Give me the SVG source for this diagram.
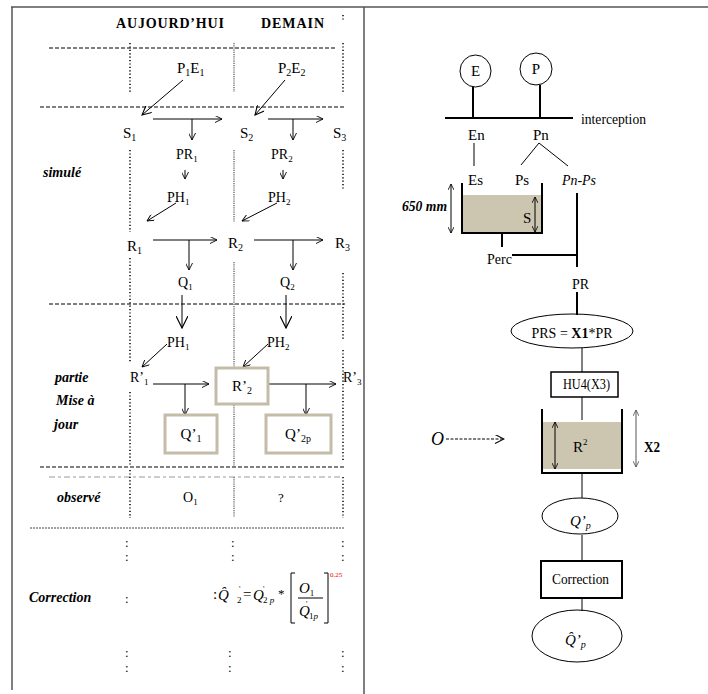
<svg xmlns="http://www.w3.org/2000/svg" width="708" height="694" viewBox="0 0 708 694">
<defs>
<style>
text{font-family:"Liberation Serif","Times New Roman",serif;fill:#000}
.hdr{font-size:14px;font-weight:bold}
.lbl{font-size:14px;font-weight:bold;font-style:italic}
.t13{font-size:13px}
.t14{font-size:14px}
.t15{font-size:15px}
.it{font-style:italic}
.frame{stroke:#555;stroke-width:1.5;fill:none}
.dash{stroke:#000;stroke-width:1;stroke-dasharray:4 2;fill:none}
.dot{stroke:#000;stroke-width:1.5;stroke-dasharray:1.2 2.2;fill:none}
.dotg{stroke:#777;stroke-width:1.5;stroke-dasharray:1.2 1;fill:none}
.ln{stroke:#000;stroke-width:1;fill:none}
.ln2{stroke:#000;stroke-width:2;fill:none}
.bx{stroke:#c4bca8;stroke-width:3;fill:#fff}
.fill{fill:#ccc5b0;stroke:none}
</style>
<marker id="a" viewBox="0 0 10 10" refX="10" refY="5" markerWidth="8" markerHeight="7" markerUnits="userSpaceOnUse" orient="auto"><path d="M0,0 L10,5 L0,10" fill="none" stroke="#000" stroke-width="1.3"/></marker>
<marker id="am" viewBox="0 0 10 10" refX="10" refY="5" markerWidth="11" markerHeight="9" markerUnits="userSpaceOnUse" orient="auto"><path d="M0,0 L10,5 L0,10" fill="none" stroke="#000" stroke-width="1.2"/></marker>
<marker id="ab" viewBox="0 0 10 10" refX="10" refY="5" markerWidth="13" markerHeight="12" markerUnits="userSpaceOnUse" orient="auto"><path d="M0,0 L10,5 L0,10" fill="none" stroke="#000" stroke-width="1"/></marker>
<marker id="ad" viewBox="0 0 10 10" refX="10" refY="5" markerWidth="6" markerHeight="6" markerUnits="userSpaceOnUse" orient="auto-start-reverse"><path d="M0,0 L10,5 L0,10" fill="none" stroke="#000" stroke-width="1.4"/></marker>
<marker id="adg" viewBox="0 0 10 10" refX="10" refY="5" markerWidth="6" markerHeight="6" markerUnits="userSpaceOnUse" orient="auto-start-reverse"><path d="M0,0 L10,5 L0,10" fill="none" stroke="#555" stroke-width="1.4"/></marker>
</defs>

<g id="frame">
<line class="frame" x1="11" y1="7" x2="708" y2="7"/>
<line class="frame" x1="12" y1="7" x2="12" y2="690"/>
<line class="frame" x1="364" y1="7" x2="364" y2="694"/>
</g>

<g id="grid">
<line class="dash" x1="49" y1="48" x2="337" y2="48"/>
<line class="dash" x1="40" y1="107" x2="345" y2="107"/>
<line class="dash" x1="49" y1="304" x2="345" y2="304"/>
<line class="dash" x1="40" y1="467" x2="345" y2="467"/>
<line x1="49" y1="477" x2="343" y2="477" stroke="#999" stroke-width="1" stroke-dasharray="6 3 3 3"/>
<line x1="30" y1="528" x2="345" y2="528" stroke="#444" stroke-width="1" stroke-dasharray="2 1"/>
<path class="dot" d="M130,43V92 M130,150V232 M130,258V362 M130,392V465 M130,470V518"/>
<path class="dotg" d="M234,43V92 M234,150V222 M234,262V467 M234,477V517"/>
<path class="dot" d="M343,15V20 M343,43V92 M343,150V190 M343,273V340 M343,350V460 M343,477V518"/>
</g>

<g id="headers">
<text class="hdr" x="116" y="28" textLength="108" lengthAdjust="spacing">AUJOURD’HUI</text>
<text class="hdr" x="261" y="28" textLength="63" lengthAdjust="spacing">DEMAIN</text>
</g>

<g id="row-labels">
<text class="lbl" x="43" y="177">simulé</text>
<text class="lbl" x="55" y="382">partie</text>
<text class="lbl" x="56" y="405">Mise à</text>
<text class="lbl" x="54" y="429">jour</text>
<text class="lbl" x="57" y="502">observé</text>
<text class="lbl" x="29" y="602">Correction</text>
</g>

<g id="connectors">
<line class="ln" x1="183" y1="80" x2="142" y2="115" marker-end="url(#am)"/>
<line class="ln" x1="285" y1="80" x2="255" y2="115" marker-end="url(#am)"/>
<line class="ln" x1="153" y1="119" x2="222" y2="119" marker-end="url(#a)"/>
<line class="ln" x1="192" y1="119" x2="192" y2="140" marker-end="url(#a)"/>
<line class="ln" x1="268" y1="119" x2="323" y2="119" marker-end="url(#a)"/>
<line class="ln" x1="293" y1="119" x2="293" y2="140" marker-end="url(#a)"/>
<line class="ln" x1="185" y1="170" x2="185" y2="179" marker-end="url(#a)"/>
<line class="ln" x1="283" y1="170" x2="283" y2="179" marker-end="url(#a)"/>
<line class="ln" x1="176" y1="203" x2="147" y2="221" marker-end="url(#a)"/>
<line class="ln" x1="277" y1="203" x2="242" y2="221" marker-end="url(#a)"/>
<line class="ln" x1="153" y1="240" x2="217" y2="240" marker-end="url(#a)"/>
<line class="ln" x1="189" y1="240" x2="189" y2="270" marker-end="url(#a)"/>
<line class="ln" x1="254" y1="240" x2="323" y2="240" marker-end="url(#a)"/>
<line class="ln" x1="293" y1="240" x2="293" y2="270" marker-end="url(#a)"/>
<line class="ln" x1="182" y1="295" x2="182" y2="328" marker-end="url(#ab)"/>
<line class="ln" x1="286" y1="295" x2="286" y2="328" marker-end="url(#ab)"/>
<line class="ln" x1="167" y1="344" x2="142" y2="367" marker-end="url(#a)"/>
<line class="ln" x1="268" y1="344" x2="243" y2="367" marker-end="url(#a)"/>
<line class="ln" x1="153" y1="384" x2="209" y2="384" marker-end="url(#a)"/>
<line class="ln" x1="185" y1="384" x2="185" y2="415" marker-end="url(#a)"/>
<line class="ln" x1="268" y1="384" x2="336" y2="384" marker-end="url(#a)"/>
<line class="ln" x1="306" y1="384" x2="306" y2="415" marker-end="url(#a)"/>
</g>

<g id="n-P1E1"><text class="t15" x="177" y="73">P<tspan font-size="10" dy="3">1</tspan><tspan dy="-3">E</tspan><tspan font-size="10" dy="3">1</tspan></text></g>
<g id="n-P2E2"><text class="t15" x="278" y="73">P<tspan font-size="10" dy="3">2</tspan><tspan dy="-3">E</tspan><tspan font-size="10" dy="3">2</tspan></text></g>
<g id="n-S1"><text class="t15" x="123" y="138">S<tspan font-size="10" dy="3">1</tspan></text></g>
<g id="n-S2"><text class="t15" x="240" y="138">S<tspan font-size="10" dy="3">2</tspan></text></g>
<g id="n-S3"><text class="t15" x="333" y="138">S<tspan font-size="10" dy="3">3</tspan></text></g>
<g id="n-PR1"><text class="t14" x="176" y="159">PR<tspan font-size="9" dy="3">1</tspan></text></g>
<g id="n-PR2"><text class="t14" x="271" y="159">PR<tspan font-size="9" dy="3">2</tspan></text></g>
<g id="n-PH1"><text class="t14" x="167" y="202">PH<tspan font-size="9" dy="3">1</tspan></text></g>
<g id="n-PH2"><text class="t14" x="268" y="202">PH<tspan font-size="9" dy="3">2</tspan></text></g>
<g id="n-R1"><text class="t15" x="127" y="251">R<tspan font-size="10" dy="3">1</tspan></text></g>
<g id="n-R2"><text class="t15" x="228" y="248">R<tspan font-size="10" dy="3">2</tspan></text></g>
<g id="n-R3"><text class="t15" x="335" y="248">R<tspan font-size="10" dy="3">3</tspan></text></g>
<g id="n-Q1"><text class="t14" x="178" y="287">Q<tspan font-size="9" dy="3">1</tspan></text></g>
<g id="n-Q2"><text class="t14" x="280" y="287">Q<tspan font-size="9" dy="3">2</tspan></text></g>
<g id="n-PH1b"><text class="t14" x="167" y="347">PH<tspan font-size="9" dy="3">1</tspan></text></g>
<g id="n-PH2b"><text class="t14" x="267" y="347">PH<tspan font-size="9" dy="3">2</tspan></text></g>
<g id="n-Rp1"><text class="t14" x="130" y="382">R’<tspan font-size="9" dy="3">1</tspan></text></g>
<g id="n-Rp2"><rect class="bx" x="216" y="368" width="52" height="36"/><text class="t15" x="242" y="391" text-anchor="middle">R’<tspan font-size="10" dy="3">2</tspan></text></g>
<g id="n-Rp3"><text class="t14" x="343" y="382">R’<tspan font-size="9" dy="3">3</tspan></text></g>
<g id="n-Qp1"><rect class="bx" x="165" y="415" width="52" height="38"/><text class="t15" x="191" y="439" text-anchor="middle">Q’<tspan font-size="10" dy="3">1</tspan></text></g>
<g id="n-Qp2p"><rect class="bx" x="266" y="415" width="65" height="38"/><text class="t15" x="298" y="439" text-anchor="middle">Q’<tspan font-size="10" dy="3">2p</tspan></text></g>
<g id="n-O1"><text class="t14" x="183" y="502">O<tspan font-size="9" dy="3">1</tspan></text></g>
<g id="n-q"><text class="t13" x="278" y="502">?</text></g>

<g id="colons">
<text class="t13" x="125" y="547">:</text><text class="t13" x="125" y="561">:</text>
<text class="t13" x="231" y="547">:</text><text class="t13" x="231" y="561">:</text>
<text class="t13" x="341" y="547">:</text><text class="t13" x="341" y="561">:</text>
<text class="t13" x="125" y="603">:</text>
<text class="t13" x="125" y="657">:</text><text class="t13" x="125" y="672">:</text>
<text class="t13" x="228" y="657">:</text><text class="t13" x="228" y="672">:</text>
<text class="t13" x="341" y="657">:</text><text class="t13" x="341" y="672">:</text>
</g>

<g id="formula">
<text class="t15" x="213" y="599">:</text>
<text class="t15 it" x="218" y="600">Q̂</text>
<text font-size="8" x="239" y="592">'</text>
<text font-size="9" x="237" y="603">2</text>
<text class="t15" x="243" y="599">=</text>
<text class="t15 it" x="253" y="600">Q</text>
<text font-size="8" x="263" y="592">'</text>
<text font-size="9" x="263" y="603">2<tspan font-style="italic"> p</tspan></text>
<text class="t13" x="278" y="598">*</text>
<path class="ln" d="M295,573 H291 V623 H295 M324,573 H328 V623 H324"/>
<text class="t15 it" x="299" y="593">O<tspan font-size="9" font-style="normal" dy="3">1</tspan></text>
<line class="ln" x1="298" y1="598" x2="323" y2="598"/>
<text class="t15 it" x="299" y="616">Q</text>
<text font-size="8" x="306" y="607">'</text>
<text font-size="9" x="309" y="619">1<tspan font-style="italic">p</tspan></text>
<text font-size="7" x="330" y="577" style="fill:#e00">0.25</text>
</g>

<g id="n-E"><ellipse cx="475.5" cy="71" rx="15.5" ry="16" fill="none" stroke="#000"/><text class="t15" x="475.5" y="76" text-anchor="middle">E</text></g>
<g id="n-P"><ellipse cx="536" cy="69" rx="16" ry="16" fill="none" stroke="#000"/><text class="t15" x="536" y="74" text-anchor="middle">P</text></g>

<g id="right-connectors">
<line class="ln2" x1="473" y1="87" x2="473" y2="118"/>
<line class="ln2" x1="540" y1="85" x2="540" y2="118"/>
<line class="ln2" x1="445" y1="118" x2="573" y2="118"/>
<line class="ln" x1="474" y1="143" x2="474" y2="166"/>
<line class="ln" x1="539" y1="143" x2="521" y2="165"/>
<line class="ln" x1="539" y1="143" x2="568" y2="166"/>
<line class="ln2" x1="502" y1="233" x2="502" y2="247"/>
<line class="ln2" x1="512" y1="255" x2="577" y2="255"/>
<line class="ln2" x1="577" y1="193" x2="577" y2="267"/>
<line class="ln2" x1="577" y1="292" x2="577" y2="315"/>
<line class="ln" x1="582" y1="348" x2="582" y2="372" stroke-width="1.5"/>
<line class="ln" x1="582" y1="397" x2="582" y2="420" stroke-width="1.5"/>
<line class="ln" x1="582" y1="473" x2="582" y2="498" stroke-width="1.5"/>
<line class="ln" x1="582" y1="535" x2="582" y2="561"/>
<line class="ln" x1="582" y1="598" x2="582" y2="611"/>
<line class="ln" x1="446" y1="439" x2="504" y2="439" stroke-dasharray="3 1.5" marker-end="url(#am)"/>
</g>

<g id="n-interception"><text class="t15" x="581" y="124" textLength="65" lengthAdjust="spacingAndGlyphs">interception</text></g>
<g id="n-En"><text class="t15" x="468" y="140">En</text></g>
<g id="n-Pn"><text class="t15" x="533" y="140">Pn</text></g>
<g id="n-Es"><text class="t15" x="468" y="185">Es</text></g>
<g id="n-Ps"><text class="t15" x="515" y="185">Ps</text></g>
<g id="n-PnPs"><text class="t15 it" x="562" y="185" textLength="34" lengthAdjust="spacingAndGlyphs">Pn-Ps</text></g>

<g id="n-tank1">
<rect class="fill" x="462" y="195" width="80" height="38"/>
<path class="ln2" d="M462,183 V233 H542 V183"/>
<line class="ln" x1="451" y1="184" x2="451" y2="233" marker-start="url(#ad)" marker-end="url(#ad)"/>
<text class="lbl" x="402" y="211" font-size="14" textLength="45" lengthAdjust="spacingAndGlyphs">650 mm</text>
<line class="ln" x1="535" y1="197" x2="535" y2="232" marker-start="url(#ad)" marker-end="url(#ad)"/>
<text class="t15" x="523" y="223">S</text>
</g>
<g id="n-Perc"><text class="t14" x="487" y="264">Perc</text></g>
<g id="n-PR"><text class="t14" x="572" y="289">PR</text></g>
<g id="n-PRS"><ellipse cx="572" cy="331" rx="61" ry="17" fill="none" stroke="#000"/><text class="t14" x="572" y="338" text-anchor="middle">PRS = <tspan font-weight="bold">X1</tspan>*PR</text></g>
<g id="n-HU4"><rect x="551" y="372" width="67" height="25" fill="none" stroke="#000" stroke-width="1.5"/><text class="t14" x="563" y="389" textLength="47" lengthAdjust="spacingAndGlyphs">HU4(X3)</text></g>
<g id="n-tank2">
<rect class="fill" x="542" y="422" width="80" height="47"/>
<path class="ln2" d="M542,409 V473 H622 V409"/>
<line class="ln" x1="555" y1="422" x2="555" y2="469" marker-start="url(#ad)" marker-end="url(#ad)"/>
<text class="t15" x="573" y="452">R<tspan font-size="9" dy="-7">2</tspan></text>
<line x1="636" y1="410" x2="636" y2="467" stroke="#555" stroke-width="1" marker-start="url(#adg)" marker-end="url(#adg)"/>
<text class="t15" x="644" y="452" font-weight="bold" textLength="16" lengthAdjust="spacingAndGlyphs">X2</text>
</g>
<g id="n-O"><text x="431" y="445" font-size="18" font-style="italic">O</text></g>
<g id="n-Qp"><ellipse cx="580" cy="516" rx="38" ry="18" fill="none" stroke="#000"/><text class="t15 it" x="570" y="526">Q’<tspan font-size="10" dy="3">p</tspan></text></g>
<g id="n-Correction"><rect x="541" y="561" width="81" height="37" fill="none" stroke="#000" stroke-width="2"/><text class="t14" x="552" y="584" textLength="57" lengthAdjust="spacingAndGlyphs">Correction</text></g>
<g id="n-Qhat"><ellipse cx="577" cy="636" rx="45" ry="26" fill="none" stroke="#000"/><text class="t15 it" x="565" y="645">Q̂’<tspan font-size="10" dy="3">p</tspan></text></g>
</svg>
